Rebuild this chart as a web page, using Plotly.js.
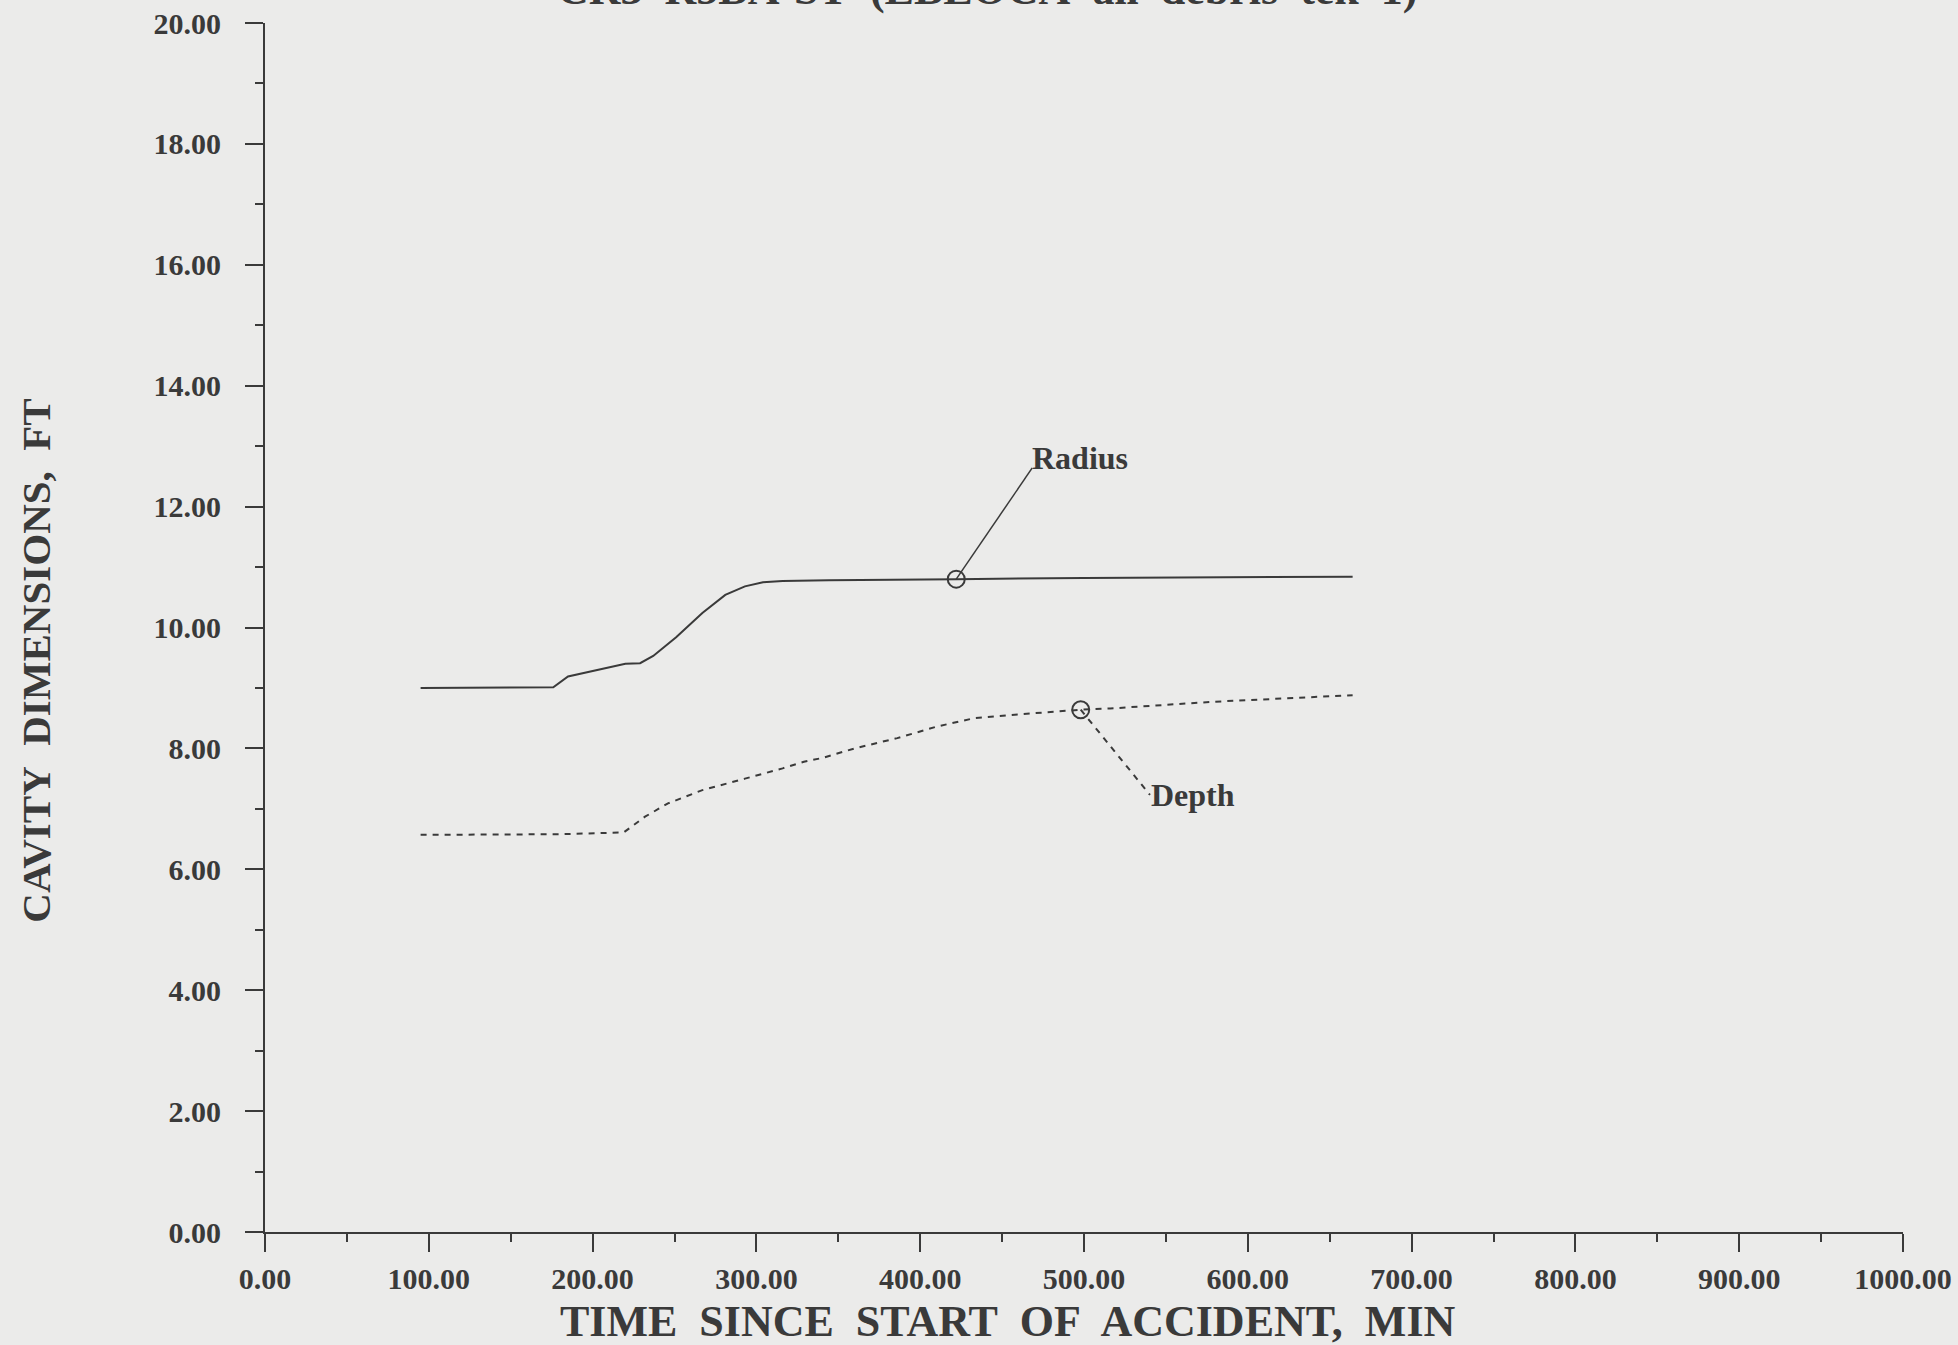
<!DOCTYPE html>
<html>
<head>
<meta charset="utf-8">
<script src="https://cdn.plot.ly/plotly-3.0.1.min.js"></script>
<style>
  html, body { margin: 0; padding: 0; background: #ebebea; }
  #chart { width: 1958px; height: 1345px; }
</style>
</head>
<body>
<div id="chart"></div>
<script>
// Cavity radius (solid) vs. time, minutes / feet
const radiusTime = [95, 176, 185, 195, 209, 220, 229, 237, 251, 267, 281, 293, 304, 316, 344, 372, 422, 500, 580, 664];
const radiusFt   = [9.00, 9.01, 9.19, 9.25, 9.34, 9.40, 9.41, 9.53, 9.84, 10.24, 10.54, 10.68, 10.75, 10.77, 10.78, 10.79, 10.80, 10.82, 10.83, 10.84];

// Cavity depth (dashed) vs. time, minutes / feet
const depthTime = [95, 180, 219, 232, 246, 267, 293, 316, 329, 340, 360, 386, 410, 433, 454, 498, 516, 578, 664];
const depthFt   = [6.57, 6.58, 6.61, 6.87, 7.09, 7.31, 7.50, 7.67, 7.78, 7.84, 8.00, 8.17, 8.36, 8.50, 8.55, 8.64, 8.66, 8.77, 8.88];

// Curve labels: marked point on each curve and where its label sits
const labelNames  = ["Radius", "Depth"];
const markTime    = [422, 498];
const markFt      = [10.80, 8.64];
const labelTime   = [468.4, 540.3];
const labelFt     = [12.64, 7.23];

// Axis ticks
const xTicks = [0, 100, 200, 300, 400, 500, 600, 700, 800, 900, 1000];
const yTicks = [0, 2, 4, 6, 8, 10, 12, 14, 16, 18, 20];

const ink = "#3a3a3a";
const serif = "Liberation Serif, Times New Roman, serif";
const sp = "\u00A0 ";

const traces = [
  {
    x: radiusTime, y: radiusFt, mode: "lines",
    line: { color: ink, width: 2 }, hoverinfo: "skip"
  },
  {
    x: depthTime, y: depthFt, mode: "lines",
    line: { color: ink, width: 2, dash: "6px,6px" }, hoverinfo: "skip"
  },
  // leader from the Radius mark to its label
  {
    x: [markTime[0], labelTime[0]], y: [markFt[0], labelFt[0]], mode: "lines",
    line: { color: ink, width: 1.5 }, hoverinfo: "skip"
  },
  // dashed leader from the Depth mark to its label
  {
    x: [markTime[1], labelTime[1]], y: [markFt[1], labelFt[1]], mode: "lines",
    line: { color: ink, width: 2, dash: "6px,6px" }, hoverinfo: "skip"
  },
  {
    x: markTime, y: markFt, mode: "markers",
    marker: { symbol: "circle-open", size: 17, color: ink, line: { width: 2, color: ink } },
    hoverinfo: "skip"
  }
];

const tickFont = { family: serif, size: 30, color: ink, weight: 700 };

const layout = {
  width: 1958, height: 1345,
  paper_bgcolor: "#ebebea", plot_bgcolor: "#ebebea",
  showlegend: false,
  margin: { l: 265, r: 55, t: 23, b: 113 },
  xaxis: {
    range: [0, 1000], tickvals: xTicks, ticktext: xTicks.map(v => v.toFixed(2)),
    showgrid: false, zeroline: false, showline: true, linecolor: ink, linewidth: 2,
    ticks: "outside", ticklen: 18, tickwidth: 2, tickcolor: ink,
    minor: { dtick: 50, tick0: 0, ticks: "outside", ticklen: 8, tickwidth: 2, tickcolor: ink, showgrid: false },
    tickfont: tickFont, ticklabelstandoff: 1
  },
  yaxis: {
    range: [0, 20], tickvals: yTicks, ticktext: yTicks.map(v => v.toFixed(2)),
    showgrid: false, zeroline: false, showline: true, linecolor: ink, linewidth: 2,
    ticks: "outside", ticklen: 18, tickwidth: 2, tickcolor: ink,
    minor: { dtick: 1, tick0: 0, ticks: "outside", ticklen: 8, tickwidth: 2, tickcolor: ink, showgrid: false },
    tickfont: tickFont, ticklabelstandoff: 18
  },
  annotations: [
    {
      text: "CR3" + sp + "R5BA-ST" + sp + "(LBLOCA" + sp + "all" + sp + "debris" + sp + "tek" + sp + "1)",
      xref: "paper", yref: "paper", x: 0.441, y: 1.006, xanchor: "center", yanchor: "bottom",
      showarrow: false, font: { family: serif, size: 44, color: ink, weight: 700 }
    },
    // x axis title
    {
      text: "TIME" + sp + "SINCE" + sp + "START" + sp + "OF" + sp + "ACCIDENT," + sp + "MIN",
      xref: "paper", yref: "paper", x: 0.4535, y: -0.0737, xanchor: "center", yanchor: "middle",
      showarrow: false, font: { family: serif, size: 44, color: ink, weight: 700 }
    },
    // y axis title
    {
      text: "CAVITY" + sp + "DIMENSIONS," + sp + "FT",
      xref: "paper", yref: "paper", x: -0.1403, y: 0.4727, xanchor: "center", yanchor: "middle",
      textangle: -90, showarrow: false, font: { family: serif, size: 41, color: ink, weight: 700 }
    },
    {
      text: labelNames[0], x: labelTime[0] - 1.5, y: labelFt[0] + 0.17, xanchor: "left", yanchor: "middle",
      showarrow: false, font: { family: serif, size: 32, color: ink, weight: 700 }
    },
    {
      text: labelNames[1], x: labelTime[1] - 0.5, y: labelFt[1], xanchor: "left", yanchor: "middle",
      showarrow: false, font: { family: serif, size: 32, color: ink, weight: 700 }
    }
  ]
};

Plotly.newPlot("chart", traces, layout, { staticPlot: true, displayModeBar: false });
</script>
</body>
</html>
